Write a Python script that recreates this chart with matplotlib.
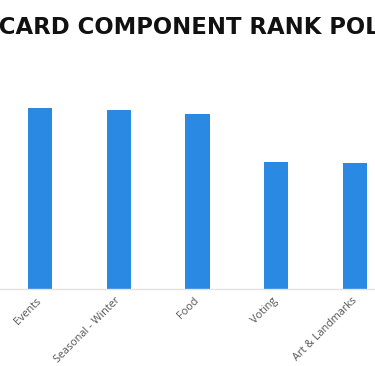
import matplotlib
matplotlib.use("Agg")
import matplotlib.pyplot as plt

# chart data (y axis is hidden, so the scale is relative)
TITLE = "POSTCARD COMPONENT RANK POLL"
categories = ["Events", "Seasonal - Winter", "Food", "Voting", "Art & Landmarks"]
scores = [3.63, 3.58, 3.51, 2.55, 2.53]

BAR_COLOR = "#2a89e2"
W, H = 375, 366

fig = plt.figure(figsize=(W / 100, H / 100), dpi=100)
# axes spans the whole width, the source chart is cropped on both sides
ax = fig.add_axes([0, 1 - 289 / H, 1, 250 / H])

x = list(range(len(categories)))
ax.bar(x, scores, width=0.31, color=BAR_COLOR, zorder=2)

step = 78.75
ax.set_xlim(-40 / step, -40 / step + W / step)
ax.set_ylim(0, 5)

ax.set_xticks(x)
ax.set_xticklabels(categories, rotation=45, ha="right", va="center",
                   rotation_mode="anchor", fontsize=7.8, color="#555555",
                   family=["Open Sans", "DejaVu Sans"])
ax.tick_params(axis="x", length=0, pad=7.5)
ax.set_yticks([])
for s in ["top", "left", "right"]:
    ax.spines[s].set_visible(False)
ax.spines["bottom"].set_color("#e3e3e3")
ax.spines["bottom"].set_linewidth(1.0)

# title: only "CARD COMPONENT RANK POL" is visible in the crop
title_kw = dict(fontsize=16.4, fontweight="bold", color="#111111",
                family=["DejaVu Sans"])
renderer = fig.canvas.get_renderer()
probe = fig.text(0, 0, "POST", **title_kw)
pre_w = probe.get_window_extent(renderer).width
probe.remove()
fig.text((-pre_w - 1) / W, 1 - 33.7 / H, TITLE, ha="left", va="baseline",
         **title_kw)

fig.savefig("out.png", dpi=100)
